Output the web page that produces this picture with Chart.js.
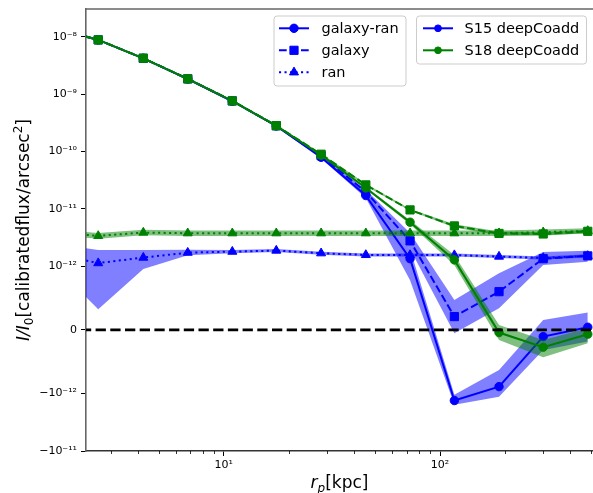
<!DOCTYPE html>
<html>
<head>
<meta charset="utf-8">
<script src="https://cdn.jsdelivr.net/npm/chart.js@4/dist/chart.umd.min.js"></script>
<style>
  html, body { margin: 0; padding: 0; background: #fff; overflow: hidden; }
  canvas { display: block; }
</style>
</head>
<body>
<canvas id="chart" width="593" height="493"></canvas>
<script>
// Projected radius of each bin [kpc]
const radius = [1.64, 2.63, 4.25, 6.82, 10.96, 17.5, 28.2, 45.4, 72.7, 116.5, 187.4, 300, 482];

// S15 deepCoadd profiles
const s15GalaxyRan   = [1.42e-8, 8.8e-9, 4.2e-9, 1.83e-9, 7.5e-10, 2.78e-10, 7.9e-11, 1.70e-11, 1.35e-12, -1.32e-12, -8.9e-13, -1.05e-13, 4.2e-14];
const s15GalaxyRanLo = [1.38e-8, 8.6e-9, 4.1e-9, 1.79e-9, 7.3e-10, 2.7e-10, 7.5e-11, 1.55e-11, 7.8e-13, -1.57e-12, -1.13e-12, -3.14e-13, -1.84e-13];
const s15GalaxyRanHi = [1.46e-8, 9.0e-9, 4.3e-9, 1.87e-9, 7.7e-10, 2.86e-10, 8.3e-11, 1.85e-11, 2.0e-12, -1.05e-12, -6.3e-13, 1.57e-13, 2.71e-13];
const s15Galaxy      = [1.42e-8, 8.8e-9, 4.2e-9, 1.84e-9, 7.6e-10, 2.8e-10, 8.4e-11, 1.97e-11, 2.76e-12, 2.09e-13, 6.0e-13, 1.35e-12, 1.51e-12];
const s15GalaxyLo    = [1.38e-8, 8.6e-9, 4.1e-9, 1.79e-9, 7.4e-10, 2.72e-10, 8.0e-11, 1.8e-11, 2.0e-12, -5.2e-14, 3.4e-13, 1.05e-12, 1.19e-12];
const s15GalaxyHi    = [1.46e-8, 9.0e-9, 4.3e-9, 1.89e-9, 7.8e-10, 2.88e-10, 8.8e-11, 2.15e-11, 3.8e-12, 4.7e-13, 8.9e-13, 1.77e-12, 1.86e-12];
const s15Ran         = [1.64e-12, 1.13e-12, 1.41e-12, 1.72e-12, 1.79e-12, 1.87e-12, 1.68e-12, 1.57e-12, 1.57e-12, 1.56e-12, 1.47e-12, 1.39e-12, 1.51e-12];
const s15RanLo       = [1.05e-12, 3.25e-13, 9.57e-13, 1.55e-12, 1.68e-12, 1.76e-12, 1.58e-12, 1.48e-12, 1.48e-12, 1.47e-12, 1.39e-12, 1.31e-12, 1.42e-12];
const s15RanHi       = [2.46e-12, 1.92e-12, 1.92e-12, 1.94e-12, 1.92e-12, 1.99e-12, 1.79e-12, 1.67e-12, 1.67e-12, 1.66e-12, 1.56e-12, 1.48e-12, 1.61e-12];

// S18 deepCoadd profiles
const s18GalaxyRan   = [1.42e-8, 8.8e-9, 4.2e-9, 1.84e-9, 7.6e-10, 2.8e-10, 8.6e-11, 2.31e-11, 5.84e-12, 1.285e-12, -4.2e-14, -2.71e-13, -6.7e-14];
const s18GalaxyRanLo = [1.38e-8, 8.6e-9, 4.1e-9, 1.8e-9, 7.4e-10, 2.73e-10, 8.3e-11, 2.2e-11, 5.4e-12, 1.05e-12, -1.57e-13, -4.28e-13, -2.09e-13];
const s18GalaxyRanHi = [1.46e-8, 9.0e-9, 4.3e-9, 1.88e-9, 7.8e-10, 2.87e-10, 8.9e-11, 2.42e-11, 6.3e-12, 1.57e-12, 7.8e-14, -1.57e-13, 2.7e-14];
const s18Galaxy      = [1.42e-8, 8.8e-9, 4.22e-9, 1.84e-9, 7.6e-10, 2.82e-10, 8.94e-11, 2.61e-11, 9.57e-12, 5.03e-12, 3.72e-12, 3.64e-12, 4.05e-12];
const s18GalaxyLo    = [1.38e-8, 8.6e-9, 4.12e-9, 1.8e-9, 7.45e-10, 2.75e-10, 8.7e-11, 2.5e-11, 9.2e-12, 4.7e-12, 3.45e-12, 3.4e-12, 3.8e-12];
const s18GalaxyHi    = [1.46e-8, 9.0e-9, 4.32e-9, 1.88e-9, 7.75e-10, 2.89e-10, 9.2e-11, 2.72e-11, 9.95e-12, 5.4e-12, 4.0e-12, 3.9e-12, 4.3e-12];
const s18Ran         = [3.9e-12, 3.37e-12, 3.85e-12, 3.75e-12, 3.75e-12, 3.75e-12, 3.75e-12, 3.75e-12, 3.75e-12, 3.75e-12, 3.76e-12, 3.91e-12, 4.12e-12];
const s18RanLo       = [3.5e-12, 3.0e-12, 3.45e-12, 3.35e-12, 3.35e-12, 3.35e-12, 3.35e-12, 3.35e-12, 3.35e-12, 3.35e-12, 3.36e-12, 3.5e-12, 3.7e-12];
const s18RanHi       = [4.35e-12, 3.8e-12, 4.3e-12, 4.2e-12, 4.2e-12, 4.2e-12, 4.2e-12, 4.2e-12, 4.2e-12, 4.2e-12, 4.2e-12, 4.35e-12, 4.6e-12];

// Axis ticks
const yTickValues = [1e-8, 1e-9, 1e-10, 1e-11, 1e-12, 0, -1e-12, -1e-11];
const yTickLabels = ['10\u207B\u2078', '10\u207B\u2079', '10\u207B\u00B9\u2070', '10\u207B\u00B9\u00B9', '10\u207B\u00B9\u00B2', '0', '\u221210\u207B\u00B9\u00B2', '\u221210\u207B\u00B9\u00B9'];
const xTickValues = [10, 100];
const xTickLabels = ['10\u00B9', '10\u00B2'];
const xMinorTicks = [3, 4, 5, 6, 7, 8, 9, 20, 30, 40, 50, 60, 70, 80, 90, 200, 300, 400, 500];

// Legend entries
const styleLegend = [
  { label: 'galaxy-ran', dash: [], marker: 'circle' },
  { label: 'galaxy', dash: [7.7, 3.3], marker: 'rect' },
  { label: 'ran', dash: [2.1, 3.4], marker: 'triangle' }
];
const surveyLegend = [
  { label: 'S15 deepCoadd', color: '#0000ff' },
  { label: 'S18 deepCoadd', color: '#008000' }
];

const FONT = "'DejaVu Sans', 'Liberation Sans', sans-serif";
const BLUE = '#0000ff', GREEN = '#008000';
const BLUE_FILL = 'rgba(0,0,255,0.5)', GREEN_FILL = 'rgba(0,128,0,0.5)';
const MARKER_R = { circle: 4.2, rect: 5.8, triangle: 5.2 };

// Symmetric log transform (linear inside +-LINTHRESH)
const LINTHRESH = 1e-12, LINSCALE = 1;
const LIN_K = LINSCALE / (1 - 1 / 10);
function symFwd(v) {
  const a = Math.abs(v);
  if (a <= LINTHRESH) return v / LINTHRESH * LIN_K;
  return Math.sign(v) * (LIN_K + Math.log10(a / LINTHRESH));
}
function symInv(f) {
  const a = Math.abs(f);
  if (a <= LIN_K) return f / LIN_K * LINTHRESH;
  return Math.sign(f) * LINTHRESH * Math.pow(10, a - LIN_K);
}

class SymlogScale extends Chart.Scale {
  determineDataLimits() {
    this.min = this.options.min;
    this.max = this.options.max;
  }
  buildTicks() {
    return yTickValues.map(value => ({ value }));
  }
  configure() {
    super.configure();
    this._fmin = symFwd(this.min);
    this._fmax = symFwd(this.max);
  }
  getLabelForValue(v) { return String(v); }
  getPixelForValue(v) {
    if (v === null || v === undefined || isNaN(v)) return NaN;
    return this.getPixelForDecimal((symFwd(v) - this._fmin) / (this._fmax - this._fmin));
  }
  getValueForPixel(p) {
    return symInv(this._fmin + this.getDecimalForPixel(p) * (this._fmax - this._fmin));
  }
}
SymlogScale.id = 'symlog';
SymlogScale.defaults = {};
Chart.register(SymlogScale);

const pts = arr => radius.map((x, i) => ({ x, y: arr[i] }));
const datasets = [];
function addBand(lo, hi, fillColor) {
  datasets.push({ data: pts(lo), borderWidth: 0, borderColor: 'rgba(0,0,0,0)', pointRadius: 0, fill: false });
  datasets.push({ data: pts(hi), borderWidth: 0, borderColor: 'rgba(0,0,0,0)', pointRadius: 0, fill: '-1', backgroundColor: fillColor });
}
function addLine(values, color, dash, marker) {
  datasets.push({
    data: pts(values), borderColor: color, borderWidth: 2, borderDash: dash,
    pointStyle: marker, pointRadius: MARKER_R[marker], pointBackgroundColor: color,
    pointBorderColor: color, pointBorderWidth: 1, fill: false
  });
}
function addSurvey(gr, grLo, grHi, gal, galLo, galHi, ran, ranLo, ranHi, color, fillColor) {
  addBand(grLo, grHi, fillColor);
  addLine(gr, color, styleLegend[0].dash, 'circle');
  addBand(galLo, galHi, fillColor);
  addLine(gal, color, styleLegend[1].dash, 'rect');
  addBand(ranLo, ranHi, fillColor);
  addLine(ran, color, styleLegend[2].dash, 'triangle');
}
addSurvey(s15GalaxyRan, s15GalaxyRanLo, s15GalaxyRanHi, s15Galaxy, s15GalaxyLo, s15GalaxyHi, s15Ran, s15RanLo, s15RanHi, BLUE, BLUE_FILL);
addSurvey(s18GalaxyRan, s18GalaxyRanLo, s18GalaxyRanHi, s18Galaxy, s18GalaxyLo, s18GalaxyHi, s18Ran, s18RanLo, s18RanHi, GREEN, GREEN_FILL);
// zero reference line
datasets.push({ data: [{ x: 1, y: 0 }, { x: 1000, y: 0 }], borderColor: '#000', borderWidth: 2.8, borderDash: [10.3, 4.4], pointRadius: 0, fill: false });
// later datasets are painted on top
datasets.forEach((d, i) => { d.order = datasets.length - i; d.tension = 0; });

function drawMarker(ctx, style, x, y, r, color) {
  ctx.save();
  ctx.setLineDash([]);
  ctx.fillStyle = color; ctx.strokeStyle = color; ctx.lineWidth = 1;
  ctx.beginPath();
  if (style === 'circle') {
    ctx.arc(x, y, r, 0, Math.PI * 2);
  } else if (style === 'rect') {
    const s = r * Math.SQRT1_2;
    ctx.rect(x - s, y - s, 2 * s, 2 * s);
  } else {
    let a = 0;
    ctx.moveTo(x + Math.sin(a) * r, y - Math.cos(a) * r);
    a += Math.PI * 2 / 3;
    ctx.lineTo(x + Math.sin(a) * r, y - Math.cos(a) * r);
    a += Math.PI * 2 / 3;
    ctx.lineTo(x + Math.sin(a) * r, y - Math.cos(a) * r);
  }
  ctx.closePath(); ctx.fill(); ctx.stroke();
  ctx.restore();
}

function drawRich(ctx, parts, cx, cy, rotate) {
  ctx.save();
  ctx.translate(cx, cy);
  if (rotate) ctx.rotate(-Math.PI / 2);
  let total = 0;
  parts.forEach(p => { ctx.font = p.font; p.w = ctx.measureText(p.text).width; total += p.w; });
  let x = -total / 2;
  ctx.fillStyle = '#000'; ctx.textAlign = 'left'; ctx.textBaseline = 'alphabetic';
  parts.forEach(p => { ctx.font = p.font; ctx.fillText(p.text, x, p.dy || 0); x += p.w; });
  ctx.restore();
}

function legendBox(ctx, x, y, w, h) {
  ctx.save();
  ctx.beginPath();
  ctx.roundRect(x, y, w, h, 3);
  ctx.fillStyle = 'rgba(255,255,255,0.8)';
  ctx.fill();
  ctx.strokeStyle = '#cccccc'; ctx.lineWidth = 1;
  ctx.stroke();
  ctx.restore();
}

function legendLine(ctx, x0, x1, y, color, dash, width) {
  ctx.save();
  ctx.strokeStyle = color; ctx.lineWidth = width; ctx.setLineDash(dash);
  ctx.beginPath(); ctx.moveTo(x0, y); ctx.lineTo(x1, y); ctx.stroke();
  ctx.restore();
}

const decorations = {
  id: 'decorations',
  afterDraw(chart) {
    const ctx = chart.ctx;
    const area = chart.chartArea;
    const xs = chart.scales.x;

    // top spine
    ctx.save();
    ctx.strokeStyle = '#666'; ctx.lineWidth = 1.6;
    ctx.beginPath(); ctx.moveTo(area.left - 1, area.top); ctx.lineTo(area.right, area.top); ctx.stroke();
    // minor ticks of the log axis
    ctx.strokeStyle = '#000'; ctx.lineWidth = 0.8;
    xMinorTicks.forEach(v => {
      const px = Math.round(xs.getPixelForValue(v)) + 0.5;
      if (px < area.left || px > area.right) return;
      ctx.beginPath(); ctx.moveTo(px, area.bottom); ctx.lineTo(px, area.bottom + 3); ctx.stroke();
    });
    ctx.restore();

    // legend: line styles
    legendBox(ctx, 274, 16, 132, 70);
    styleLegend.forEach((e, i) => {
      const y = 28.3 + i * 22;
      legendLine(ctx, 279, 309, y, BLUE, e.dash, 2);
      drawMarker(ctx, e.marker, 294, y, MARKER_R[e.marker], BLUE);
      ctx.save();
      ctx.fillStyle = '#000'; ctx.font = '14.5px ' + FONT; ctx.textBaseline = 'middle'; ctx.textAlign = 'left';
      ctx.fillText(e.label, 321.5, y + 0.5);
      ctx.restore();
    });

    // legend: surveys
    legendBox(ctx, 416.5, 16, 170, 48);
    surveyLegend.forEach((e, i) => {
      const y = 28.3 + i * 22;
      legendLine(ctx, 423, 453, y, e.color, [], 2);
      drawMarker(ctx, 'circle', 438, y, 3.4, e.color);
      ctx.save();
      ctx.fillStyle = '#000'; ctx.font = '14.5px ' + FONT; ctx.textBaseline = 'middle'; ctx.textAlign = 'left';
      ctx.fillText(e.label, 464.5, y + 0.5);
      ctx.restore();
    });

    // axis titles
    const big = '17px ' + FONT, bigI = 'italic 17px ' + FONT, small = '12px ' + FONT, smallI = 'italic 12px ' + FONT;
    drawRich(ctx, [
      { text: 'r', font: bigI },
      { text: 'p', font: smallI, dy: 4 },
      { text: '[kpc]', font: big }
    ], (area.left + area.right) / 2, 488, false);
    drawRich(ctx, [
      { text: 'I/I', font: bigI },
      { text: '0', font: small, dy: 4 },
      { text: '[calibratedflux/arcsec', font: big },
      { text: '2', font: small, dy: -7 },
      { text: ']', font: big }
    ], 28.5, (area.top + area.bottom) / 2, true);
  }
};

new Chart(document.getElementById('chart'), {
  type: 'line',
  data: { datasets },
  plugins: [decorations],
  options: {
    responsive: false,
    animation: false,
    devicePixelRatio: 1,
    layout: { autoPadding: false, padding: { top: 9, left: 0, right: 0, bottom: 0 } },
    plugins: { legend: { display: false }, tooltip: { enabled: false } },
    elements: { line: { tension: 0 } },
    scales: {
      x: {
        type: 'logarithmic',
        min: 2.309,
        max: 509.6,
        afterBuildTicks: s => { s.ticks = xTickValues.map(v => ({ value: v, major: true })); },
        afterFit: s => { s.height = 42; s.paddingLeft = 0; s.paddingRight = 0; },
        ticks: {
          autoSkip: false, maxRotation: 0, padding: 3, color: '#000',
          font: { family: FONT, size: 11 },
          callback: v => { const i = xTickValues.indexOf(v); return i >= 0 ? xTickLabels[i] : ''; }
        },
        grid: { display: true, drawOnChartArea: false, drawTicks: true, tickLength: 5, color: '#000', lineWidth: 1 },
        border: { display: true, color: '#333', width: 1.5 }
      },
      y: {
        type: 'symlog',
        min: -1e-11,
        max: 3.04e-8,
        afterFit: s => { s.width = 86; s.paddingTop = 0; s.paddingBottom = 0; },
        ticks: {
          autoSkip: false, padding: 4, color: '#000',
          font: { family: FONT, size: 11 },
          callback: v => { const i = yTickValues.indexOf(v); return i >= 0 ? yTickLabels[i] : ''; }
        },
        grid: { display: true, drawOnChartArea: false, drawTicks: true, tickLength: 5, color: '#000', lineWidth: 1 },
        border: { display: true, color: '#666', width: 1.6 }
      }
    }
  }
});
</script>
</body>
</html>
